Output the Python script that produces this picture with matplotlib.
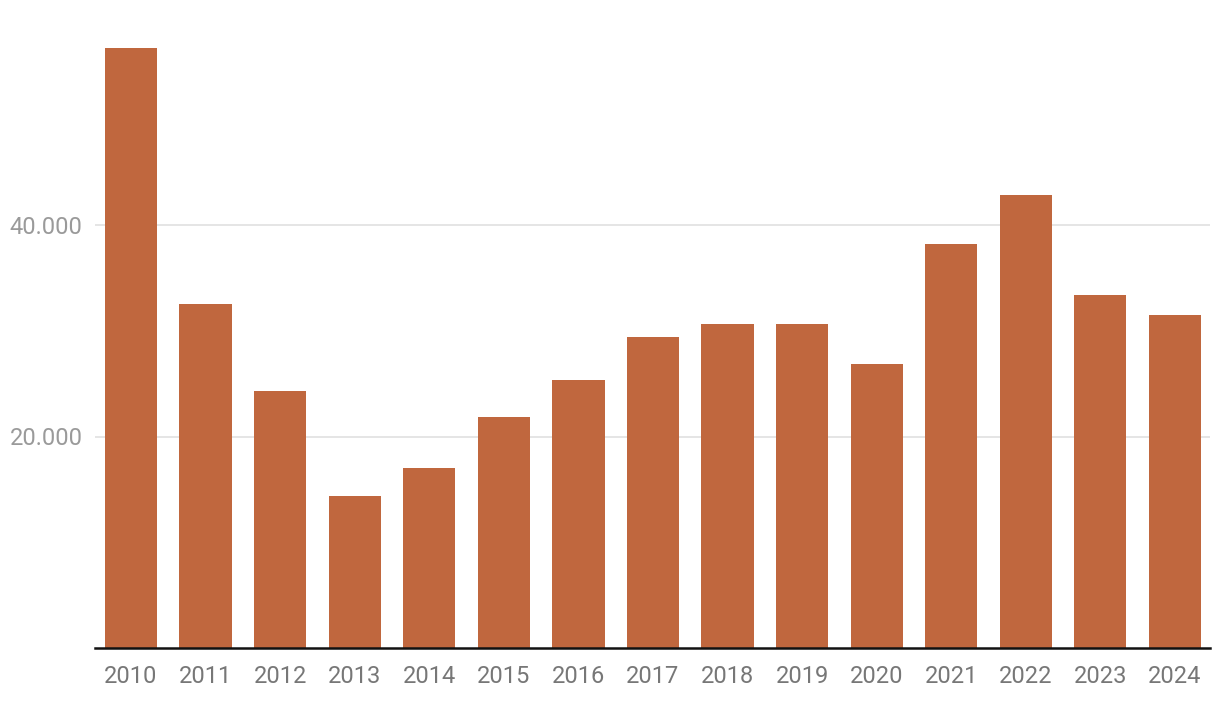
import matplotlib
matplotlib.use("Agg")
import matplotlib.pyplot as plt
from matplotlib.ticker import FuncFormatter

years = ["2010", "2011", "2012", "2013", "2014", "2015", "2016", "2017",
         "2018", "2019", "2020", "2021", "2022", "2023", "2024"]
values = [56700, 32500, 24300, 14400, 17000, 21800, 25300, 29400,
          30600, 30600, 26900, 38200, 42800, 33400, 31500]
yticks = [20000, 40000]

plt.rcParams['font.family'] = ['Roboto', 'DejaVu Sans']

fig = plt.figure(figsize=(12.2, 7.04), dpi=100)
ax = fig.add_axes([95 / 1220, 1 - 648 / 704, 1115 / 1220, 634.5 / 704])

x = list(range(len(years)))
ax.bar(x, values, width=0.7, color="#C0673E", zorder=2)

ax.set_xlim(-0.483, 14.47)
ax.set_ylim(0, 60000)
ax.set_xticks(x)
ax.set_xticklabels(years)
ax.set_yticks(yticks)
ax.yaxis.set_major_formatter(FuncFormatter(lambda v, p: f"{int(v):,}".replace(",", ".")))

ax.grid(axis="y", color="#e3e3e3", linewidth=1.3, zorder=0)
for s in ["top", "right", "left"]:
    ax.spines[s].set_visible(False)
ax.spines["bottom"].set_linewidth(1.8)
ax.spines["bottom"].set_color("#111111")
ax.spines["bottom"].set_zorder(3)

ax.tick_params(axis="x", length=0, pad=12.5, labelsize=17, labelcolor="#777777")
ax.tick_params(axis="y", length=0, pad=9, labelsize=17, labelcolor="#9a9a9a")

fig.savefig("out.png", dpi=100)
